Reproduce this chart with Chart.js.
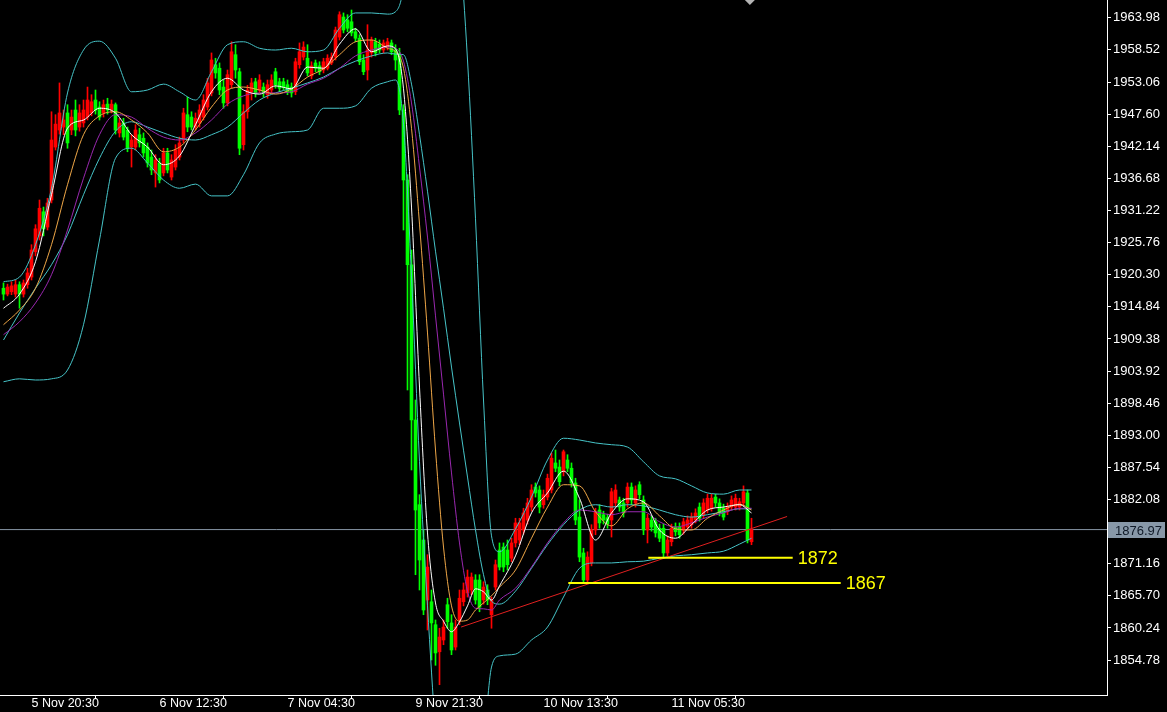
<!DOCTYPE html>
<html><head><meta charset="utf-8">
<script src="https://cdn.jsdelivr.net/npm/chart.js@4/dist/chart.umd.min.js"></script>
<style>html,body{margin:0;padding:0;background:#000;overflow:hidden}canvas{display:block}</style>
</head><body>
<canvas id="c" width="1167" height="712"></canvas>
<script>
// ---- candle data (XAUUSD M30) ----
const O = [1918.0,1917.0,1917.4,1917.0,1918.6,1917.0,1918.6,1919.9,1924.2,1926.9,
1931.0,1928.4,1933.0,1942.0,1944.9,1945.4,1947.8,1944.9,1948.3,1945.4,
1946.1,1947.1,1947.8,1950.0,1948.8,1947.8,1949.3,1948.3,1949.2,1944.4,
1946.1,1944.9,1942.0,1942.0,1944.1,1943.5,1942.0,1940.3,1937.6,1939.3,
1937.6,1941.0,1936.9,1938.6,1940.3,1943.2,1947.5,1947.1,1945.4,1946.1,
1947.1,1948.8,1951.2,1956.0,1955.4,1952.2,1949.5,1952.6,1957.7,1954.8,
1942.4,1948.0,1951.4,1953.1,1951.7,1952.2,1950.9,1951.7,1954.8,1953.1,
1953.1,1952.6,1952.2,1951.4,1956.0,1957.3,1957.1,1954.1,1956.3,1955.8,
1955.1,1955.4,1956.3,1957.3,1960.7,1964.1,1963.6,1963.3,1961.6,1960.5,
1956.8,1955.1,1958.0,1959.9,1959.5,1958.5,1959.0,1959.7,1958.5,1957.7,
1948.3,1936.4,1922.0,1895.6,1881.2,1875.2,1865.0,1864.7,1860.8,1856.2,
1858.2,1864.2,1861.1,1857.0,1861.6,1864.7,1866.2,1866.7,1868.4,1868.4,
1865.0,1866.7,1862.5,1867.2,1873.5,1874.0,1873.5,1872.1,1874.7,1875.2,
1876.9,1878.6,1880.8,1884.2,1883.7,1881.2,1882.5,1883.7,1888.3,1887.6,
1886.8,1888.8,1887.4,1884.9,1879.1,1873.0,1868.4,1871.3,1876.9,1880.3,
1879.5,1879.0,1878.6,1881.5,1882.0,1881.5,1881.5,1884.2,1881.5,1884.6,
1882.0,1876.9,1878.6,1878.3,1877.2,1877.2,1873.0,1874.9,1877.4,1877.4,
1876.9,1877.4,1877.8,1878.6,1880.8,1879.5,1880.3,1880.6,1882.5,1881.5,
1880.6,1880.0,1880.8,1880.8,1880.8,1881.5,1883.2,1874.9];
const H = [1918.9,1918.7,1919.1,1919.4,1919.1,1919.4,1921.4,1925.4,1928.8,1933.0,
1931.8,1933.3,1948.0,1947.5,1952.9,1948.3,1949.2,1948.3,1950.0,1949.2,
1950.0,1952.2,1950.9,1951.7,1949.7,1950.0,1950.3,1950.0,1949.5,1946.9,
1946.9,1945.4,1944.1,1945.8,1945.2,1944.4,1942.7,1941.5,1940.7,1940.1,
1941.8,1941.8,1940.7,1942.4,1943.7,1948.6,1950.5,1948.0,1947.8,1949.2,
1950.9,1953.7,1958.0,1957.1,1956.3,1953.4,1955.1,1959.9,1959.4,1955.4,
1949.2,1952.5,1953.7,1953.7,1954.3,1952.9,1953.4,1954.3,1955.4,1953.7,
1953.7,1953.4,1952.9,1957.1,1959.7,1959.9,1959.4,1956.5,1956.8,1956.5,
1957.1,1957.7,1958.0,1962.4,1965.0,1964.8,1964.5,1965.3,1962.2,1961.1,
1957.7,1962.8,1960.7,1960.5,1960.2,1960.2,1960.5,1960.2,1959.4,1958.8,
1949.2,1937.3,1924.5,1899.0,1882.9,1876.9,1872.7,1866.7,1861.6,1860.2,
1861.6,1865.3,1862.5,1861.6,1866.7,1867.9,1870.1,1869.6,1869.3,1869.3,
1868.1,1867.6,1865.5,1871.8,1874.7,1874.7,1875.2,1875.5,1878.9,1878.9,
1880.6,1882.3,1884.6,1884.9,1884.4,1883.7,1886.4,1890.0,1890.5,1888.8,
1890.5,1889.7,1888.3,1885.7,1882.0,1873.8,1873.2,1877.8,1880.6,1881.2,
1880.1,1879.6,1884.0,1884.6,1882.5,1882.3,1884.9,1884.9,1884.4,1885.1,
1882.7,1879.6,1879.3,1878.9,1877.9,1877.9,1875.9,1877.9,1878.1,1878.1,
1878.9,1879.3,1879.8,1880.5,1881.5,1882.2,1883.0,1883.0,1883.0,1882.2,
1881.3,1881.5,1882.7,1883.0,1882.3,1884.4,1883.7,1878.9];
const L = [1916.0,1916.7,1916.9,1916.5,1914.6,1916.5,1918.0,1919.4,1923.5,1926.2,
1926.9,1927.9,1932.5,1941.5,1944.2,1944.1,1941.8,1944.1,1943.9,1944.7,
1945.4,1946.6,1947.3,1947.6,1946.6,1947.1,1947.6,1947.8,1944.2,1943.7,
1943.2,1941.2,1938.6,1941.5,1942.0,1940.3,1938.6,1937.3,1935.2,1935.9,
1937.1,1937.6,1936.4,1938.1,1939.8,1942.7,1944.6,1944.9,1944.9,1945.4,
1946.6,1948.3,1950.7,1953.7,1950.9,1948.6,1949.0,1952.0,1953.7,1940.7,
1941.5,1946.9,1950.0,1950.5,1951.2,1950.5,1950.3,1951.2,1952.0,1951.4,
1951.7,1950.9,1950.5,1950.9,1955.4,1956.8,1954.1,1953.6,1954.8,1954.3,
1954.6,1955.1,1956.0,1956.8,1960.2,1961.4,1961.6,1960.9,1959.9,1956.0,
1954.3,1953.4,1957.3,1957.5,1958.0,1958.0,1958.5,1957.7,1955.1,1947.5,
1927.9,1900.7,1887.1,1869.3,1866.7,1862.5,1859.9,1854.8,1853.9,1850.6,
1857.4,1860.2,1855.7,1856.5,1860.8,1864.0,1865.5,1865.9,1864.3,1863.0,
1864.3,1864.2,1860.2,1866.7,1870.1,1869.8,1870.1,1871.5,1874.0,1874.4,
1876.2,1877.9,1880.1,1882.5,1879.8,1880.6,1882.0,1883.2,1886.8,1884.4,
1886.1,1886.8,1884.2,1877.8,1871.5,1868.1,1867.9,1870.8,1876.1,1877.2,
1877.9,1877.2,1875.7,1880.8,1880.1,1879.1,1880.8,1881.2,1880.8,1882.2,
1876.1,1874.7,1876.7,1875.7,1874.9,1872.1,1872.5,1874.2,1875.9,1875.5,
1876.2,1876.9,1877.2,1878.1,1878.4,1878.9,1879.8,1880.1,1880.8,1879.3,
1878.6,1879.5,1880.3,1880.3,1880.3,1881.0,1874.7,1874.4];
const C = [1917.0,1918.2,1918.4,1918.6,1917.0,1918.9,1920.6,1924.5,1928.1,1931.6,
1928.1,1932.5,1943.2,1945.9,1947.8,1946.6,1942.7,1947.1,1944.9,1947.8,
1948.3,1950.0,1949.7,1948.3,1947.1,1949.2,1948.3,1949.3,1944.9,1946.1,
1943.7,1941.8,1943.2,1944.9,1942.7,1941.0,1939.3,1938.1,1939.8,1936.4,
1941.0,1938.1,1939.8,1941.5,1942.7,1947.8,1945.4,1945.4,1946.9,1948.3,
1950.0,1952.9,1956.8,1954.6,1951.7,1949.5,1954.3,1958.2,1955.1,1941.8,
1948.0,1951.7,1952.9,1951.2,1953.4,1951.2,1952.6,1953.4,1952.6,1952.0,
1952.2,1951.4,1951.2,1956.5,1958.2,1959.0,1954.6,1955.8,1955.4,1954.8,
1956.5,1957.1,1957.3,1961.9,1964.5,1961.9,1962.2,1961.4,1960.5,1956.5,
1954.8,1958.5,1960.2,1958.0,1958.5,1959.7,1959.9,1958.2,1956.8,1948.3,
1936.4,1922.0,1895.6,1880.3,1871.8,1863.3,1870.6,1861.1,1856.0,1858.7,
1860.4,1861.3,1856.5,1860.4,1865.3,1866.7,1868.9,1868.9,1865.0,1863.8,
1867.2,1865.0,1865.0,1871.0,1870.6,1870.6,1871.0,1874.7,1878.1,1878.1,
1879.8,1881.5,1883.7,1883.2,1880.8,1882.9,1885.7,1889.1,1887.4,1885.1,
1890.2,1887.4,1884.9,1878.6,1872.3,1868.4,1872.3,1876.9,1880.0,1878.1,
1878.6,1877.9,1883.4,1883.7,1880.8,1879.8,1884.2,1882.0,1883.7,1882.9,
1876.9,1878.9,1877.4,1876.4,1875.5,1873.0,1875.2,1877.2,1876.6,1876.1,
1878.3,1878.6,1879.1,1879.8,1878.9,1881.5,1882.3,1882.3,1881.5,1879.8,
1879.1,1880.8,1882.0,1882.3,1881.7,1883.4,1875.2,1876.97];

// ---- time axis labels (bar index -> label) ----
const xTickIdx = [7, 39, 71, 103, 135, 167];
const xTickLabels = ['5 Nov 20:30', '6 Nov 12:30', '7 Nov 04:30', '9 Nov 21:30', '10 Nov 13:30', '11 Nov 05:30'];

// ---- price axis labels ----
const yTickValues = [1963.98,1958.52,1953.06,1947.60,1942.14,1936.68,1931.22,1925.76,1920.30,1914.84,
1909.38,1903.92,1898.46,1893.00,1887.54,1882.08,1871.16,1865.70,1860.24,1854.78];
const lastPrice = 1876.97;

// ---- indicator lines, read at these bar indices ----
const sampleIdx = [0,4,8,12,16,20,24,28,32,36,40,44,48,52,56,60,64,68,72,76,80,84,88,92,96,
98,100,102,104,106,108,110,112,114,116,118,120,122,124,
128,132,136,140,144,148,152,156,160,164,168,172,176,180,184,187];
const maWhite = [1914.6,1917.0,1922.5,1933.9,1945.2,1946.6,1948.6,1947.8,1944.1,1942.0,1939.0,1940.5,1945.8,1951.4,1953.7,1951.7,1951.0,1952.4,1951.9,1955.6,1955.4,1959.5,1962.1,1958.2,1959.2,
1958.7,1951.9,1931.8,1901.2,1876.4,1864.5,1861.4,1859.6,1861.3,1864.0,1866.9,1866.4,1865.0,1867.4,
1872.5,1879.8,1883.2,1886.9,1882.3,1875.2,1879.8,1882.2,1881.7,1876.9,1875.5,1877.8,1880.3,1880.8,1881.2,1879.8];
const maOrange = [1911.8,1914.3,1918.0,1925.4,1935.6,1944.1,1947.3,1948.0,1946.6,1944.4,1941.2,1942.0,1944.9,1948.8,1951.7,1952.2,1951.7,1951.0,1951.9,1953.9,1955.3,1957.7,1959.9,1960.2,1958.8,
1958.2,1955.4,1945.2,1928.9,1910.4,1890.5,1874.0,1864.0,1861.4,1861.6,1863.3,1864.5,1865.7,1867.2,
1870.1,1875.5,1880.8,1884.6,1884.4,1880.0,1877.6,1880.5,1881.5,1879.3,1877.1,1876.9,1878.9,1880.3,1881.3,1880.3];
const maPurple = [1910.1,1912.3,1915.5,1920.3,1927.9,1936.7,1944.1,1947.5,1947.1,1945.2,1943.7,1943.2,1944.4,1946.6,1949.3,1950.7,1951.2,1951.2,1951.4,1952.7,1953.7,1955.4,1957.5,1958.5,1959.0,
1958.8,1956.6,1949.5,1938.6,1926.7,1913.3,1900.0,1886.6,1874.7,1866.5,1863.6,1863.5,1863.3,1865.0,
1867.0,1870.6,1874.7,1878.1,1880.3,1880.0,1879.5,1880.0,1880.0,1878.3,1877.4,1878.1,1879.1,1879.8,1880.6,1880.6];
const bbMiddle = [1909.2,1913.8,1918.0,1922.0,1927.1,1933.9,1940.1,1944.7,1946.3,1945.4,1944.4,1943.5,1943.2,1944.1,1945.4,1947.8,1950.0,1951.2,1952.0,1952.9,1953.9,1955.4,1956.6,1957.5,1958.0,
1957.8,1957.7,1952.7,1944.1,1934.5,1924.3,1914.6,1904.6,1895.1,1885.9,1876.9,1869.3,1864.8,1864.3,
1866.5,1870.4,1874.4,1877.8,1880.3,1881.2,1880.8,1881.2,1881.0,1880.3,1879.5,1879.1,1879.5,1880.0,1880.5,1880.5];
const bbUpper = [1919.1,1919.9,1925.4,1935.0,1951.2,1958.5,1960.0,1957.1,1951.4,1951.7,1952.7,1951.4,1950.0,1954.8,1959.4,1959.9,1958.8,1958.5,1958.8,1958.2,1958.5,1962.2,1964.8,1964.8,1964.6,
1965.0,1969.4,1985.4,1999.6,2005.1,2005.9,2001.3,1991.3,1977.2,1956.8,1929.8,1899.0,1875.9,1873.2,
1877.1,1882.5,1888.8,1892.5,1892.2,1891.7,1891.4,1891.0,1888.5,1886.1,1885.6,1884.4,1883.2,1883.0,1883.7,1883.7];
const bbLower = [1902.1,1902.6,1902.4,1902.6,1904.1,1911.8,1926.2,1940.1,1941.8,1939.3,1936.4,1935.0,1935.7,1933.7,1933.7,1937.3,1942.7,1944.2,1944.6,1944.9,1948.6,1948.6,1949.0,1952.0,1953.1,
1953.4,1945.9,1920.1,1888.5,1864.0,1842.7,1827.9,1817.9,1813.0,1815.0,1824.0,1839.5,1853.6,1855.5,
1855.8,1858.2,1860.4,1865.5,1870.4,1871.3,1871.3,1871.5,1871.6,1872.1,1872.5,1872.7,1873.0,1873.3,1874.5,1875.5];

// ---- drawn objects ----
const levelValues = [1872.2, 1867.9];
const levelLabels = ['1872', '1867'];
const levelStart = [161.2, 141.2];
const levelEnd = [197.3, 209.3];
const trendIdx = [114.4, 195.9];
const trendVal = [1860.4, 1879.2];
const shiftMarkerIdx = 186.6;

const lens = [O.length, H.length, L.length, C.length];
if (lens.some(n => n !== 188)) throw new Error('OHLC length ' + lens.join(','));
[maWhite, maOrange, maPurple, bbMiddle, bbUpper, bbLower].forEach((a, k) => {
  if (a.length !== sampleIdx.length) throw new Error('line ' + k + ' length ' + a.length + ' vs ' + sampleIdx.length);
});

const UP = '#ff0000', DOWN = '#00ff00';
const candleColors = C.map((c, i) => (c > O[i] ? UP : DOWN));
const barIdx = C.map((_, i) => i);
const X_MIN = -0.875, X_MAX = 275.875, Y_MIN = 1848.85, Y_MAX = 1967.0;
const FONT = '"Liberation Sans", Arial, sans-serif';

const line = (arr, color, order) => ({
  type: 'line', data: sampleIdx.map((x, k) => ({ x, y: arr[k] })),
  borderColor: color, borderWidth: 1, pointRadius: 0, cubicInterpolationMode: 'monotone', order
});
const seg = (x0, x1, y0, y1, color, w, order) => ({
  type: 'line', data: [{ x: x0, y: y0 }, { x: x1, y: y1 }],
  borderColor: color, borderWidth: w, pointRadius: 0, order
});
const noPad = s => { s.paddingTop = 0; s.paddingBottom = 0; s.paddingLeft = 0; s.paddingRight = 0; };

const overlay = {
  id: 'overlay',
  afterDatasetsDraw(chart) {
    const { ctx, scales: { x, y } } = chart;
    ctx.save();
    ctx.font = '18px ' + FONT;
    ctx.fillStyle = '#ffff00';
    ctx.textBaseline = 'middle';
    levelValues.forEach((v, k) => {
      ctx.fillText(levelLabels[k], x.getPixelForValue(levelEnd[k]) + 5, y.getPixelForValue(v) + 1);
    });
    ctx.restore();
  },
  afterDraw(chart) {
    const { ctx, scales: { y } } = chart;
    const py = Math.round(y.getPixelForValue(lastPrice));
    ctx.save();
    ctx.fillStyle = '#8898a8';
    ctx.fillRect(y.left + 1, py - 8, 57, 16);
    ctx.fillStyle = '#101a28';
    ctx.font = '13px ' + FONT;
    ctx.textBaseline = 'middle';
    ctx.fillText(lastPrice.toFixed(2), y.left + 8, py + 1);
    ctx.restore();
  }
};

new Chart(document.getElementById('c'), {
  type: 'bar',
  data: {
    datasets: [
      seg(X_MIN, X_MAX, lastPrice, lastPrice, '#8594a4', 1, 30),
      { type: 'bar', data: barIdx.map(i => ({ x: i, y: [L[i], H[i]] })), backgroundColor: candleColors,
        barThickness: 1, grouped: false, borderWidth: 0, order: 20 },
      { type: 'bar', data: barIdx.map(i => ({ x: i, y: [O[i], C[i]] })), backgroundColor: candleColors,
        barThickness: 3, grouped: false, borderWidth: 0, minBarLength: 1, order: 19 },
      line(bbUpper, '#46c4c8', 8),
      line(bbLower, '#46c4c8', 8),
      line(bbMiddle, '#46c4c8', 8),
      line(maPurple, '#9a28b0', 7),
      line(maOrange, '#f0a848', 6),
      line(maWhite, '#ffffff', 5),
      seg(trendIdx[0], trendIdx[1], trendVal[0], trendVal[1], '#e02020', 1, 4),
      seg(levelStart[0], levelEnd[0], levelValues[0], levelValues[0], '#ffff00', 2, 3),
      seg(levelStart[1], levelEnd[1], levelValues[1], levelValues[1], '#ffff00', 2, 3),
      { type: 'line', data: [{ x: shiftMarkerIdx, y: Y_MAX }], showLine: false, pointStyle: 'rectRot',
        pointRadius: 5, pointBackgroundColor: '#b4b4b4', pointBorderWidth: 0, order: 2 }
    ]
  },
  options: {
    responsive: false,
    devicePixelRatio: 1,
    animation: false,
    events: [],
    layout: { padding: 0, autoPadding: false },
    plugins: { legend: { display: false }, tooltip: { enabled: false } },
    scales: {
      x: {
        type: 'linear', position: 'bottom', min: X_MIN, max: X_MAX, offset: false,
        grid: { drawOnChartArea: false, drawTicks: true, tickLength: 4, color: '#ffffff', lineWidth: 1 },
        border: { display: true, color: '#ffffff', width: 1 },
        ticks: {
          color: '#ffffff', font: { family: FONT, size: 12.5 }, align: 'start', maxRotation: 0,
          autoSkip: false, padding: -3,
          callback: v => { const k = xTickIdx.indexOf(v); return k >= 0 ? xTickLabels[k] : ''; }
        },
        afterBuildTicks: s => { s.ticks = xTickIdx.map(v => ({ value: v })); },
        afterFit: s => { s.height = 17; noPad(s); }
      },
      y: {
        type: 'linear', position: 'right', min: Y_MIN, max: Y_MAX,
        grid: { drawOnChartArea: false, drawTicks: true, tickLength: 4, color: '#ffffff', lineWidth: 1 },
        border: { display: true, color: '#ffffff', width: 1 },
        ticks: { color: '#ffffff', font: { family: FONT, size: 13 }, padding: 2,
          callback: v => Number(v).toFixed(2) },
        afterBuildTicks: s => { s.ticks = yTickValues.map(v => ({ value: v })); },
        afterFit: s => { s.width = 60; noPad(s); }
      }
    }
  },
  plugins: [overlay]
});
</script>
</body></html>
